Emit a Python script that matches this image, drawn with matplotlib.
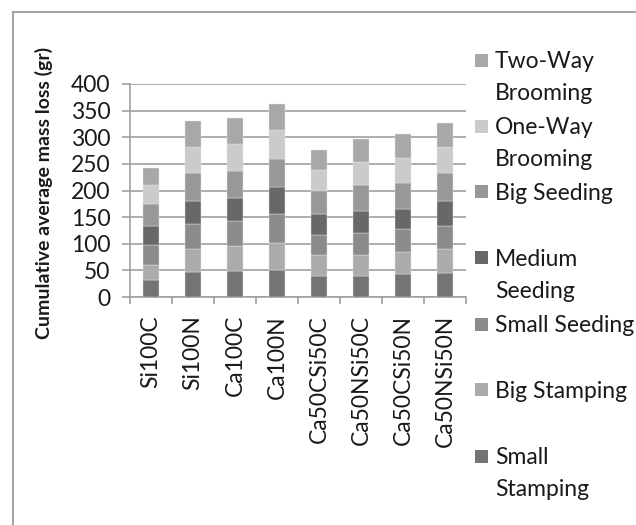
import matplotlib
matplotlib.use("Agg")
import matplotlib.pyplot as plt
from matplotlib.patches import Rectangle
from matplotlib.lines import Line2D
import numpy as np

plt.rcParams['font.family'] = ['Lato', 'DejaVu Sans']

categories = ["Si100C", "Si100N", "Ca100C", "Ca100N",
              "Ca50CSi50C", "Ca50NSi50C", "Ca50CSi50N", "Ca50NSi50N"]

series_names = ["Small Stamping", "Big Stamping", "Small Seeding",
                "Medium Seeding", "Big Seeding", "One-Way Brooming",
                "Two-Way Brooming"]
legend_labels = ["Small\nStamping", "Big Stamping", "Small Seeding",
                 "Medium\nSeeding", "Big Seeding", "One-Way\nBrooming",
                 "Two-Way\nBrooming"]

small_stamping = [31, 47, 49, 51, 40, 40, 43, 45]
big_stamping = [29, 44, 46, 51, 38, 39, 42, 45]
small_seeding = [37, 46, 47, 54, 38, 41, 42, 43]
medium_seeding = [37, 43, 43, 50, 39, 42, 38, 48]
big_seeding = [41, 52, 52, 54, 45, 48, 50, 52]
one_way_brooming = [35, 49, 50, 53, 39, 44, 46, 48]
two_way_brooming = [33, 49, 49, 50, 37, 42, 46, 46]

series_values = [small_stamping, big_stamping, small_seeding, medium_seeding,
                 big_seeding, one_way_brooming, two_way_brooming]
colors = ["#747477", "#ababad", "#8b8b8d", "#68686a",
          "#98989a", "#cbcbcc", "#a8a8aa"]

yticks = [0, 50, 100, 150, 200, 250, 300, 350, 400]

W, H = 636, 525
fig = plt.figure(figsize=(W / 100, H / 100), dpi=100)
fig.patch.set_facecolor("white")

def fx(x):
    return x / W

def fy(y):
    return 1 - y / H

ax = fig.add_axes([fx(130), fy(297), fx(466) - fx(130), fy(84) - fy(297)])

x = np.arange(len(categories))
bottom = np.zeros(len(categories))
for vals, col, name in zip(series_values, colors, series_names):
    ax.bar(x, vals, width=0.4, bottom=bottom, color=col, label=name,
           edgecolor="#e6e6e6", linewidth=0.3, zorder=3)
    bottom += np.array(vals)

ax.set_xlim(-0.5, len(categories) - 0.5)
ax.set_ylim(0, 400)
ax.set_yticks(yticks)
ax.set_yticklabels([str(t) for t in yticks])
ax.yaxis.grid(True, color="#a0a0a0", linewidth=1.2, zorder=0)
ax.set_axisbelow(True)

ax.set_xticks(x)
ax.set_xticklabels(categories, rotation=90, fontsize=16.5, color="#1a1a1a")
ax.set_xticks(np.arange(len(categories) + 1) - 0.5, minor=True)
ax.tick_params(axis="x", which="major", length=0, pad=13)
ax.tick_params(axis="x", which="minor", length=5, width=1.2, color="#a0a0a0")
ax.tick_params(axis="y", length=6, width=1.2, color="#a0a0a0", pad=8,
               labelsize=16.5, labelcolor="#1a1a1a")

for s in ["top", "right"]:
    ax.spines[s].set_visible(False)
for s in ["left", "bottom"]:
    ax.spines[s].set_color("#a0a0a0")
    ax.spines[s].set_linewidth(1.2)

ax.set_ylabel("Cumulative average mass loss (gr)", fontsize=14,
              fontweight="bold", color="#1a1a1a")
ax.yaxis.set_label_coords((44 - 130) / 336, 0.49)
ax.yaxis.label.set_verticalalignment("center")

# legend (top to bottom order reversed from stacking)
marker_centers = [60, 126, 191, 257, 324, 389, 456]
for i, (lab, col) in enumerate(zip(legend_labels[::-1], colors[::-1])):
    yc = marker_centers[i]
    fig.add_artist(Rectangle((fx(475), fy(yc + 6.5)), 13 / W, 13 / H,
                             transform=fig.transFigure, facecolor=col,
                             edgecolor="none"))
    for j, line in enumerate(lab.split("\n")):
        fig.text(fx(495), fy(yc + 32 * j), line, fontsize=16.5,
                 color="#1a1a1a", ha="left", va="center_baseline")

# chart frame
fig.add_artist(Line2D([fx(12.5), fx(12.5)], [fy(11.5), 0],
                      transform=fig.transFigure, color="#a6a6a6", linewidth=1.5))
fig.add_artist(Line2D([fx(12.5), 1], [fy(11.5), fy(11.5)],
                      transform=fig.transFigure, color="#a6a6a6", linewidth=1.5))

fig.savefig("out.png", dpi=100)
